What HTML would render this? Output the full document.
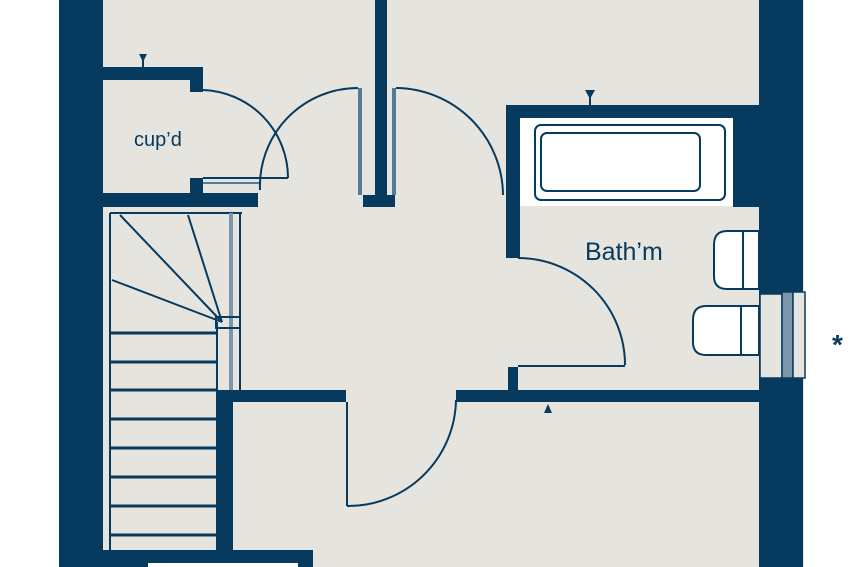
<!DOCTYPE html>
<html><head><style>
html,body{margin:0;padding:0;background:#fff;}
svg{display:block;}
</style></head><body>
<svg width="850" height="567" viewBox="0 0 850 567" xmlns="http://www.w3.org/2000/svg">
<rect x="0" y="0" width="850" height="567" fill="#fff"/>
<rect x="59" y="0" width="745" height="567" fill="#e6e4de"/>
<g fill="#063a5e">
<rect x="59" y="0" width="44" height="567"/>
<rect x="759" y="0" width="44" height="567"/>
<rect x="375" y="0" width="12" height="197"/>
<rect x="363" y="195" width="32" height="12"/>
<rect x="103" y="67" width="100" height="13"/>
<rect x="190" y="80" width="13" height="12"/>
<rect x="103" y="193" width="155" height="14"/>
<rect x="190" y="178" width="13" height="15"/>
<rect x="506" y="105" width="253" height="13"/>
<rect x="506" y="105" width="14" height="153"/>
<rect x="733" y="118" width="26" height="89"/>
<rect x="216" y="390" width="130" height="12"/>
<rect x="456" y="390" width="303" height="12"/>
<rect x="216" y="390" width="17" height="160"/>
<rect x="508" y="367" width="10" height="23"/>
<rect x="103" y="550" width="210" height="17"/>
</g>
<rect x="148" y="563" width="150" height="4" fill="#fff"/>
<rect x="520" y="118" width="213" height="88" fill="#fff"/>
<rect x="535" y="125" width="190" height="75" rx="6" fill="none" stroke="#063a5e" stroke-width="2"/>
<rect x="541" y="133" width="159" height="58" rx="6" fill="none" stroke="#063a5e" stroke-width="2"/>
<g fill="none" stroke="#063a5e" stroke-width="2">
<line x1="360" y1="88" x2="360" y2="195" stroke="#557a96" stroke-width="4"/>
<line x1="394" y1="88" x2="394" y2="195" stroke="#557a96" stroke-width="4"/>
<line x1="203" y1="178" x2="288" y2="178"/>
<line x1="203" y1="183" x2="260" y2="183" stroke="#557a96"/>
<path d="M203 90 A88 88 0 0 1 288 178"/>
<path d="M358 88 A98 98 0 0 0 260 190"/>
<path d="M396 88 A108 108 0 0 1 503 195"/>
<path d="M518 258 A107 107 0 0 1 625 365"/>
<line x1="518" y1="366" x2="625" y2="366"/>
<line x1="347" y1="402" x2="347" y2="506"/>
<path d="M347 506 A108 108 0 0 0 456 400"/>
</g>
<g fill="none" stroke="#063a5e" stroke-width="2">
<line x1="110" y1="213" x2="110" y2="550"/>
<line x1="110" y1="213" x2="242" y2="213"/>
<line x1="120" y1="215" x2="222" y2="322"/>
<line x1="188" y1="215" x2="222" y2="322"/>
<line x1="112" y1="280" x2="222" y2="322"/>
<line x1="240" y1="213" x2="240" y2="390"/>
<line x1="231" y1="213" x2="231" y2="390" stroke="#7b95aa" stroke-width="4"/>
<line x1="217" y1="322" x2="217" y2="390"/>
<rect x="216" y="317" width="24" height="11" stroke-width="2"/>
</g>
<g stroke="#063a5e" stroke-width="3">
<line x1="111" y1="333" x2="216" y2="333"/>
<line x1="111" y1="362" x2="216" y2="362"/>
<line x1="111" y1="390" x2="216" y2="390"/>
<line x1="111" y1="419" x2="216" y2="419"/>
<line x1="111" y1="448" x2="216" y2="448"/>
<line x1="111" y1="477" x2="216" y2="477"/>
<line x1="111" y1="506" x2="216" y2="506"/>
<line x1="111" y1="535" x2="216" y2="535"/>
</g>
<g stroke="#063a5e" stroke-width="2">
<path d="M759 231 H727 Q714 231 714 245 V276 Q714 289 727 289 H759 Z" fill="#fff"/>
<line x1="743" y1="232" x2="743" y2="288"/>
<path d="M759 306 H706 Q693 306 693 320 V342 Q693 355 706 355 H759 Z" fill="#fff"/>
<line x1="741" y1="306" x2="741" y2="355"/>
</g>
<rect x="760" y="294" width="22" height="84" fill="#e6e4de" stroke="#063a5e" stroke-width="1.5"/>
<rect x="782" y="292" width="11" height="86" fill="#7b95aa" stroke="#063a5e" stroke-width="1.5"/>
<rect x="793" y="292" width="12" height="86" fill="#e6e4de" stroke="#063a5e" stroke-width="1.5"/>
<g fill="#063a5e">
<path d="M139 54 L147 54 L143 62 Z"/><rect x="142" y="60" width="2" height="7"/>
<path d="M585 90 L595 90 L590 99 Z"/><rect x="589" y="97" width="2" height="8"/>
<path d="M544 413 L552 413 L548 404 Z"/>
</g>
<g font-family="Liberation Sans, sans-serif" fill="#063a5e">
<text x="134" y="146" font-size="20">cup’d</text>
<text x="585" y="260" font-size="25">Bath’m</text>
<text x="832" y="354" font-size="28" font-weight="bold">*</text>
</g>
</svg>
</body></html>
